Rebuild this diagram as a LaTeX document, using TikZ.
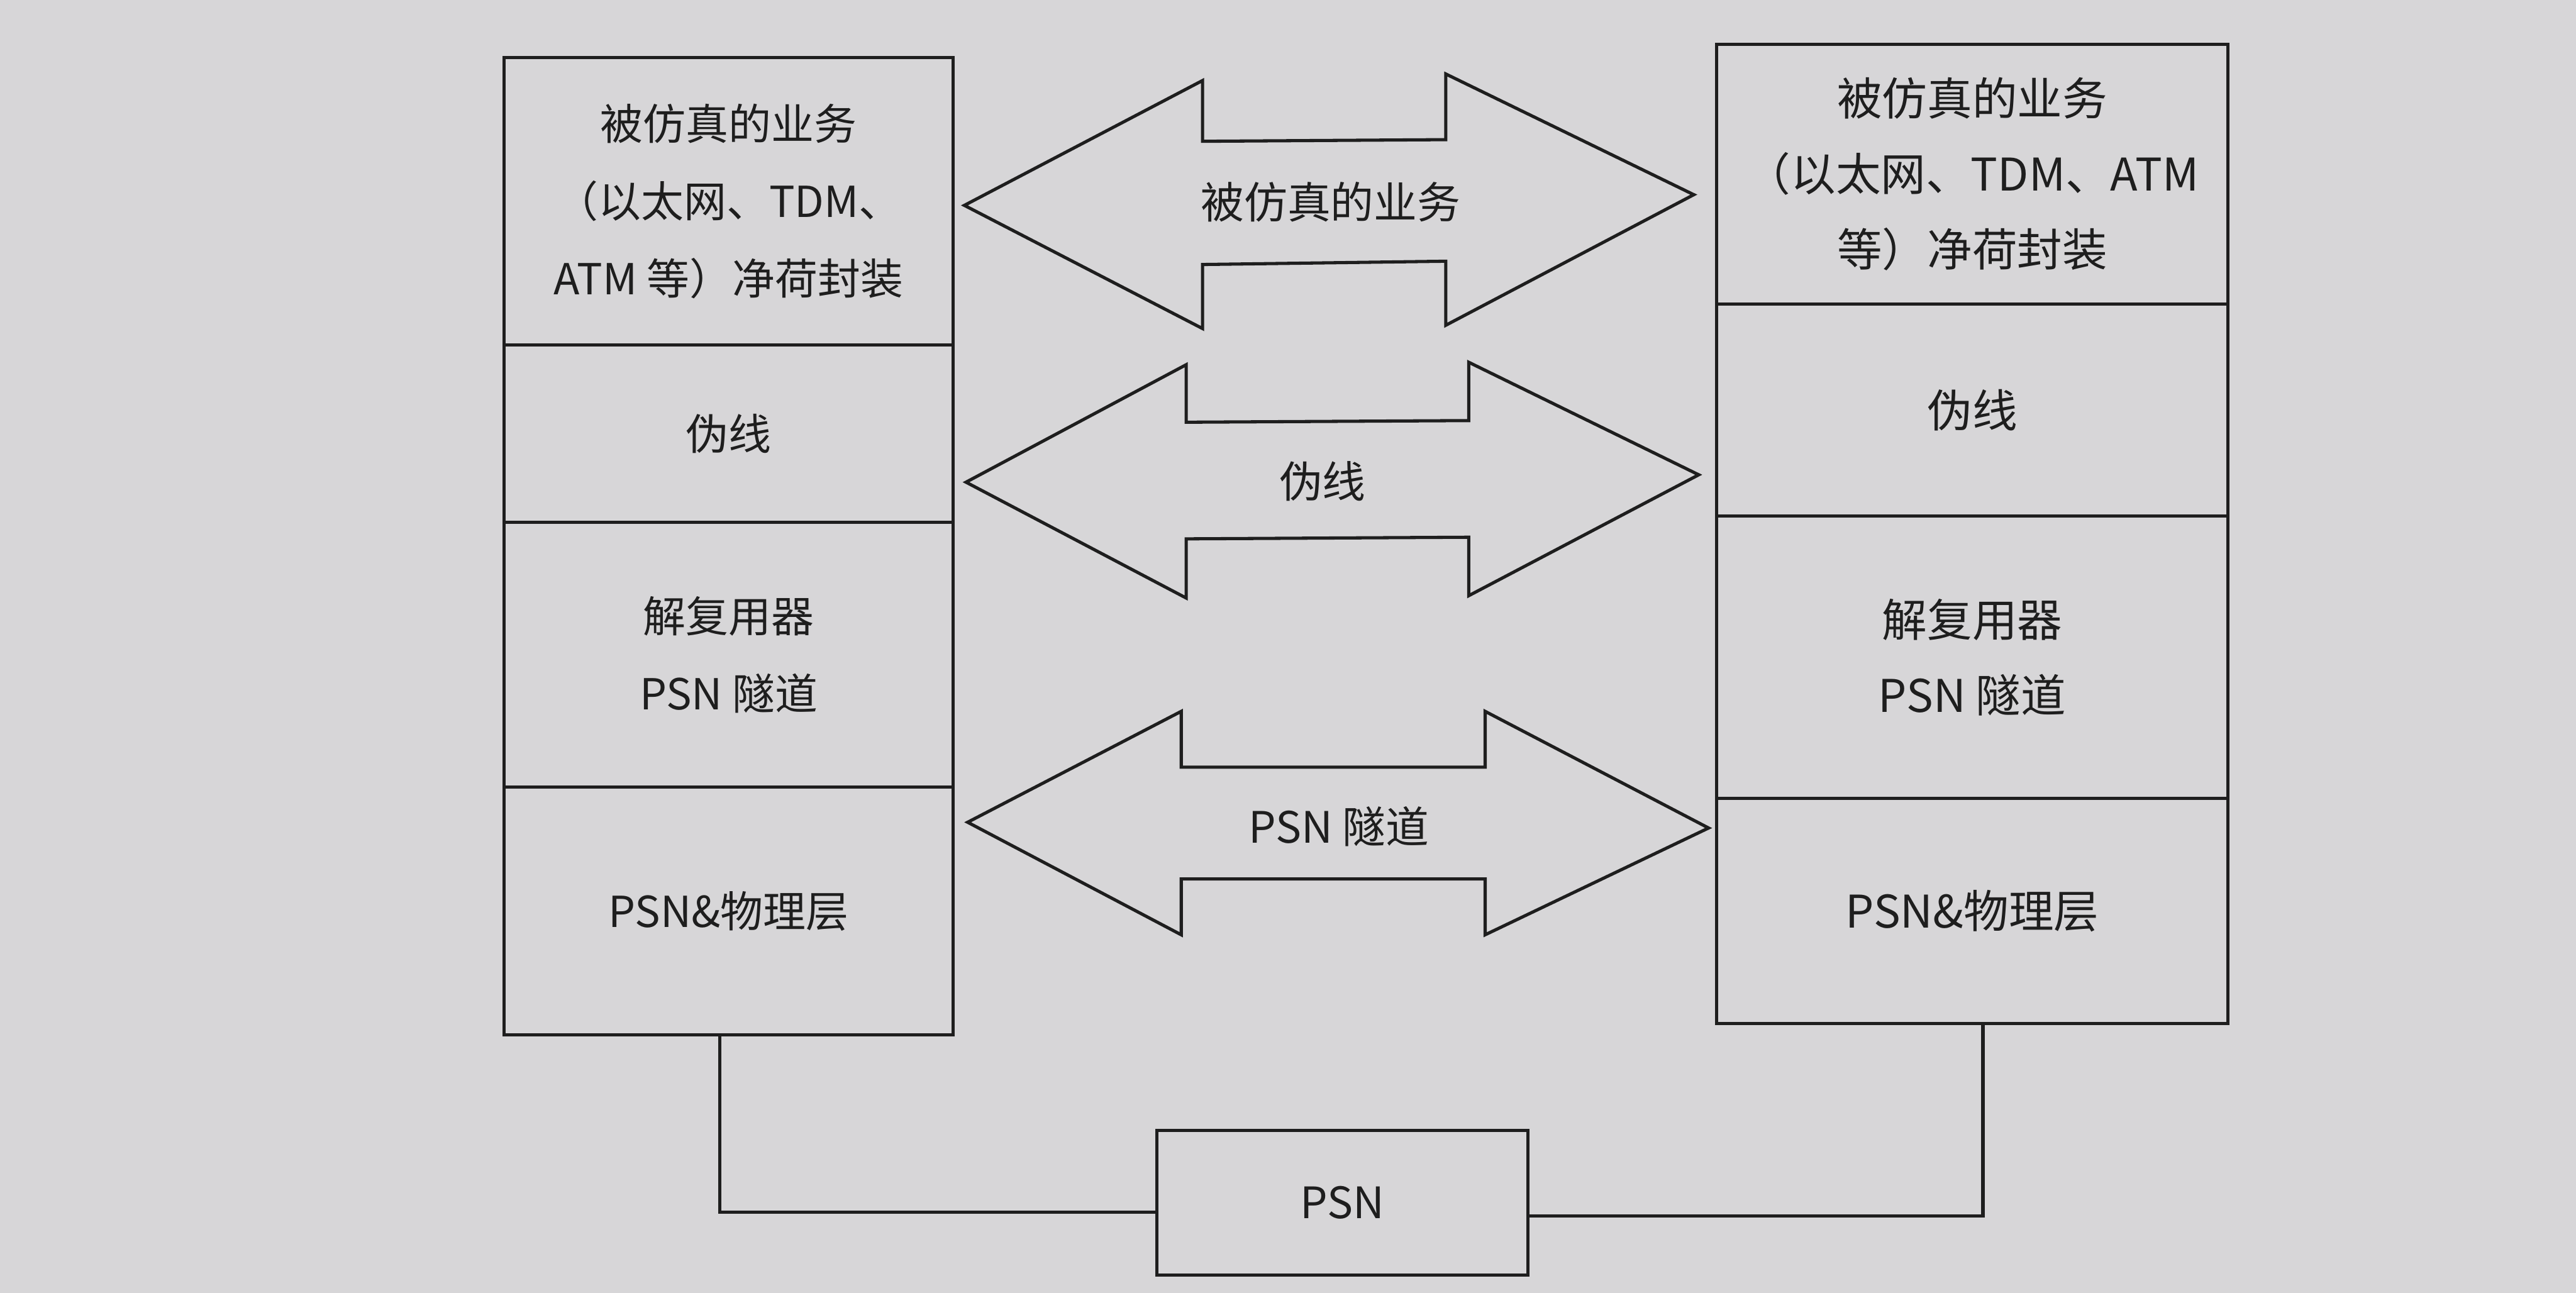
\documentclass[tikz,border=0pt]{standalone}
\usepackage{fontspec}
\setmainfont{Noto Sans CJK SC}
\usetikzlibrary{positioning}
\definecolor{PaperGray}{HTML}{D7D6D8}
\definecolor{InkBlack}{HTML}{1E1E1E}

\begin{document}
\begin{tikzpicture}[
  x=0.2mm,y=-0.2mm,
  node distance=0pt,
  layer/.style={draw=InkBlack,text=InkBlack,line width=1.1pt,outer sep=0pt,inner sep=0pt,align=center},
  leftlayer/.style={layer,minimum width=54.6mm,font=\fontsize{14.8}{26.7}\selectfont},
  rightlayer/.style={layer,minimum width=62.2mm,font=\fontsize{15.6}{26.2}\selectfont},
  bigarrow/.style={draw=InkBlack,line width=1.1pt},
  arrowtext/.style={text=InkBlack,font=\fontsize{15}{18}\selectfont,inner sep=0pt},
  link/.style={draw=InkBlack,line width=1.1pt}
]
\fill[PaperGray] (0,0) rectangle (1568,787);
\useasboundingbox (0,0) rectangle (1568,787);

% left stack
\node[leftlayer,minimum height=35mm] (lsvc) at (443.5,122.5) {被仿真的业务\\（以太网、TDM、\\ATM 等）净荷封装};
\node[leftlayer,minimum height=21.6mm,below=of lsvc] (lpw) {伪线};
\node[leftlayer,minimum height=32.2mm,below=of lpw] (ltun) {解复用器\\PSN 隧道};
\node[leftlayer,minimum height=30.2mm,below=of ltun] (lphy) {PSN\&物理层};

% right stack
\node[rightlayer,minimum height=31.6mm] (rsvc) at (1200.5,106) {被仿真的业务\\（以太网、TDM、ATM\\等）净荷封装};
\node[rightlayer,minimum height=25.8mm,below=of rsvc] (rpw) {伪线};
\node[rightlayer,minimum height=34.4mm,below=of rpw] (rtun) {解复用器\\PSN 隧道};
\node[rightlayer,minimum height=27.4mm,below=of rtun] (rphy) {PSN\&物理层};

% block arrows between the stacks
\draw[bigarrow] (587,125) -- (732,49) -- (732,86) -- (880,85) -- (880,45) -- (1031,118.5)
  -- (880,198) -- (880,159) -- (732,161) -- (732,200) -- cycle;
\node[arrowtext] (asvc) at (810,123) {被仿真的业务};

\draw[bigarrow] (588,293.5) -- (722,222) -- (722,257) -- (894,256) -- (894,220.5) -- (1034,289)
  -- (894,362.6) -- (894,327) -- (722,328) -- (722,364) -- cycle;
\node[arrowtext] (apw) at (805,293) {伪线};

\draw[bigarrow] (589,500.5) -- (719,433) -- (719,467) -- (904,467) -- (904,433) -- (1040,504)
  -- (904,569) -- (904,535) -- (719,535) -- (719,569) -- cycle;
\node[arrowtext] (atun) at (815,503) {PSN 隧道};

% PSN and links
\node[layer,minimum width=45.2mm,minimum height=17.6mm,font=\fontsize{15}{18}\selectfont] (psn) at (817,732) {PSN};
\draw[link] ([xshift=-1.1mm]lphy.south) |- ([yshift=-1.2mm]psn.west);
\draw[link] ([xshift=1.3mm]rphy.south) |- ([yshift=-1.6mm]psn.east);
\end{tikzpicture}
\end{document}
